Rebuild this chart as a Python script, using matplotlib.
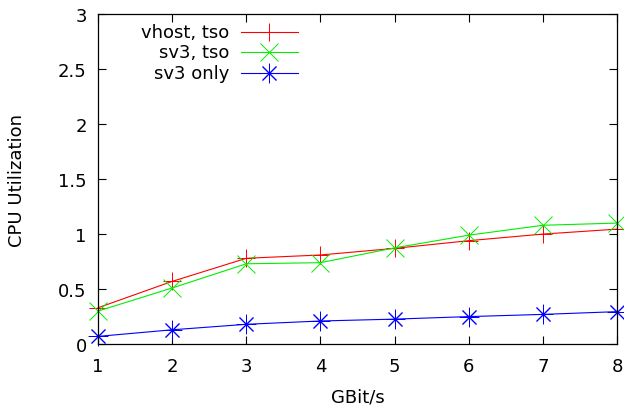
import matplotlib

matplotlib.use("Agg")

import matplotlib.pyplot as plt
from matplotlib.lines import Line2D

# data
gbits = [1, 2, 3, 4, 5, 6, 7, 8]
vhost_tso = [0.33, 0.57, 0.78, 0.81, 0.87, 0.94, 1.00, 1.045]
sv3_tso = [0.30, 0.51, 0.73, 0.74, 0.875, 0.99, 1.08, 1.10]
sv3_only = [0.07, 0.13, 0.18, 0.21, 0.227, 0.25, 0.27, 0.295]
labels = ["vhost, tso", "sv3, tso", "sv3 only"]
yticks = [0, 0.5, 1, 1.5, 2, 2.5, 3]
ytick_labels = ["0", "0.5", "1", "1.5", "2", "2.5", "3"]

plt.rcParams["font.family"] = "DejaVu Sans"
FS = 13

fig = plt.figure(figsize=(6.24, 4.06), dpi=100)
ax = fig.add_axes([0.157, 0.150, 0.832, 0.813])

star = (8, 2, 0)
styles = [
    ("#ff0000", "+", 13),
    ("#00ee00", "x", 12.5),
    ("#0000ff", star, 14),
]
series = [vhost_tso, sv3_tso, sv3_only]

for ys, (col, mk, ms) in zip(series, styles):
    ax.plot(gbits, ys, color=col, lw=0.8, marker=mk, ms=ms, mew=0.7, clip_on=False)

ax.set_xlim(1, 8)
ax.set_ylim(0, 3)
ax.set_xticks(gbits)
ax.set_yticks(yticks)
ax.set_yticklabels(ytick_labels)
ax.tick_params(direction="in", length=6, width=0.8, top=True, right=True,
               labelsize=FS)
ax.tick_params(axis="y", pad=8)
ax.tick_params(axis="x", pad=9)
for sp in ax.spines.values():
    sp.set_linewidth(0.9)
ax.set_xlabel("GBit/s", fontsize=FS, labelpad=9)
ax.set_ylabel("CPU Utilization", fontsize=FS, labelpad=23)

# gnuplot-style key: right-aligned text, sample line to its right
key_y = [0.945, 0.885, 0.822]
for lab, ky, (col, mk, ms) in zip(labels, key_y, styles):
    ax.text(0.253, ky, lab, transform=ax.transAxes, ha="right", va="center",
            fontsize=FS)
    ax.add_line(Line2D([0.275, 0.386], [ky, ky], transform=ax.transAxes,
                       color=col, lw=0.8))
    ax.add_line(Line2D([0.33], [ky], transform=ax.transAxes, color=col,
                       marker=mk, ms=ms, mew=0.7, ls="none"))

fig.savefig("out.png", dpi=100)
